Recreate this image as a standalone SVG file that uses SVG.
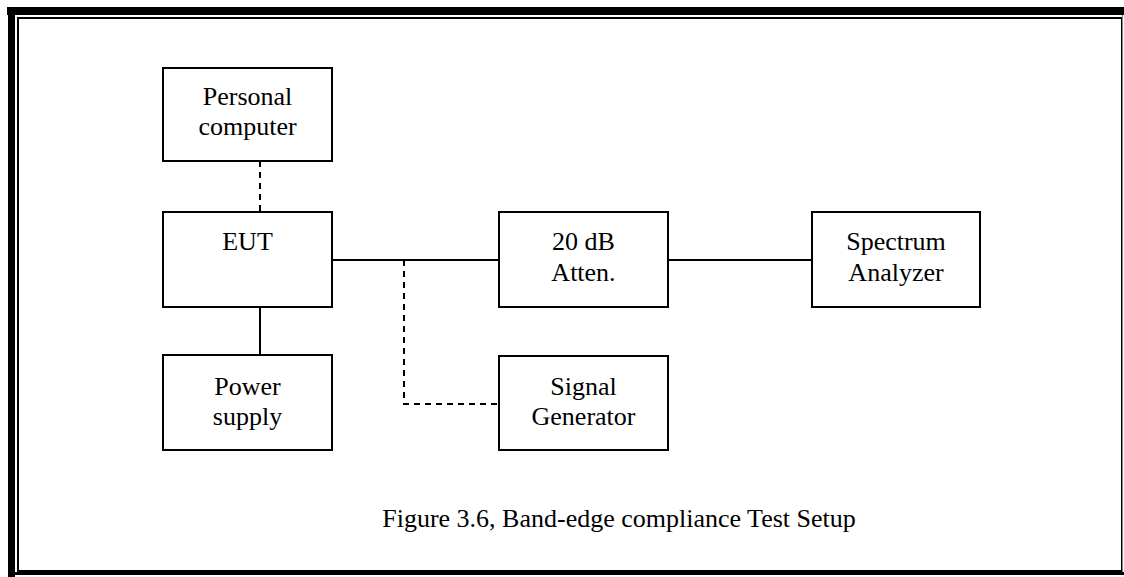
<svg xmlns="http://www.w3.org/2000/svg" width="1124" height="577" viewBox="0 0 1124 577">
  <style>
    .box { fill: #fff; stroke: #000; stroke-width: 2; }
    .lbl { font-family: "Liberation Serif", "Times New Roman", serif; font-size: 26px; fill: #000; text-anchor: middle; }
    .wire { fill: none; stroke: #000; stroke-width: 2; }
    .dash { fill: none; stroke: #000; stroke-width: 2; stroke-dasharray: 6 5; }
  </style>
  <rect width="1124" height="577" fill="#fff"/>

  <!-- page frame -->
  <g id="frame">
    <rect x="7" y="7" width="1117" height="8" fill="#000"/>
    <rect x="8" y="7" width="7" height="570" fill="#000"/>
    <rect x="18" y="18" width="1104" height="553" fill="none" stroke="#000" stroke-width="2"/>
    <rect x="8" y="572" width="1116" height="3" fill="#000"/>
    <line x1="1122.5" y1="15" x2="1122.5" y2="572" stroke="#888" stroke-width="1"/>
  </g>

  <!-- connectors -->
  <g id="connectors">
    <line class="dash" x1="260" y1="161" x2="260" y2="212"/>
    <line class="wire" x1="260" y1="307" x2="260" y2="355"/>
    <line class="wire" x1="332" y1="260" x2="499" y2="260"/>
    <line class="wire" x1="668" y1="260" x2="812" y2="260"/>
    <polyline class="dash" points="404,260 404,404 499,404"/>
  </g>

  <g id="pc">
    <rect class="box" x="163" y="68" width="169" height="93"/>
    <text class="lbl" x="247.5" y="105">Personal</text>
    <text class="lbl" x="247.5" y="135">computer</text>
  </g>

  <g id="eut">
    <rect class="box" x="163" y="212" width="169" height="95"/>
    <text class="lbl" x="247.5" y="250">EUT</text>
  </g>

  <g id="power">
    <rect class="box" x="163" y="355" width="169" height="95"/>
    <text class="lbl" x="247.5" y="395">Power</text>
    <text class="lbl" x="247.5" y="425">supply</text>
  </g>

  <g id="atten">
    <rect class="box" x="499" y="212" width="169" height="95"/>
    <text class="lbl" x="583.5" y="250">20 dB</text>
    <text class="lbl" x="583.5" y="281">Atten.</text>
  </g>

  <g id="analyzer">
    <rect class="box" x="812" y="212" width="168" height="95"/>
    <text class="lbl" x="896" y="250">Spectrum</text>
    <text class="lbl" x="896" y="281">Analyzer</text>
  </g>

  <g id="siggen">
    <rect class="box" x="499" y="356" width="169" height="94"/>
    <text class="lbl" x="583.5" y="395">Signal</text>
    <text class="lbl" x="583.5" y="425">Generator</text>
  </g>

  <g id="caption">
    <text class="lbl" x="619" y="527">Figure 3.6, Band-edge compliance Test Setup</text>
  </g>
</svg>
